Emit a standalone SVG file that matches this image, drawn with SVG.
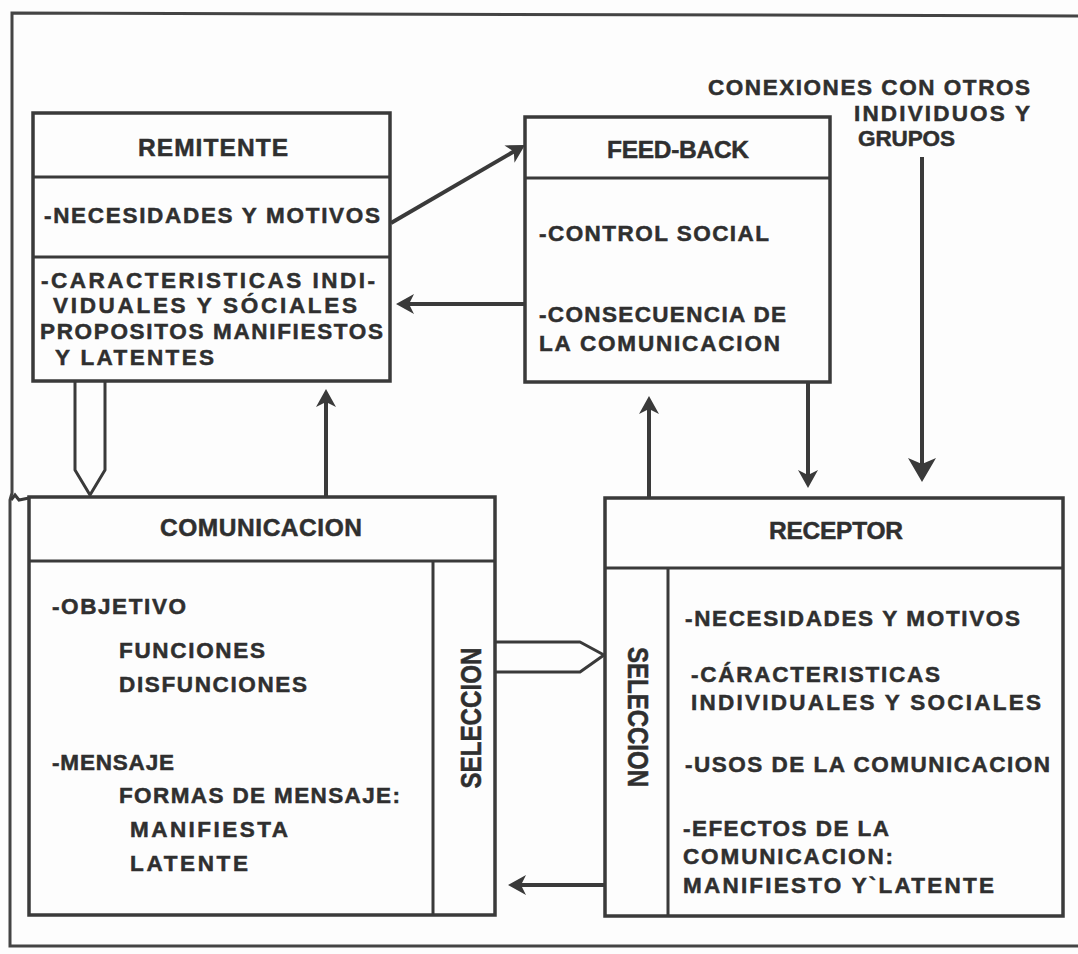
<svg xmlns="http://www.w3.org/2000/svg" width="1078" height="954" viewBox="0 0 1078 954">
<style>
.bx{fill:none;stroke:#3a3a3a;stroke-width:3.5}
.dv{fill:none;stroke:#3a3a3a;stroke-width:3}
.fr{fill:none;stroke:#444;stroke-width:3}
.ar{fill:none;stroke:#3a3a3a;stroke-width:4}
.ho{fill:none;stroke:#3a3a3a;stroke-width:3;stroke-linejoin:round}
.t{font-family:"Liberation Sans",Arial,Helvetica,sans-serif;font-weight:bold;font-size:22.5px;fill:#2f2f2f;stroke:#2f2f2f;stroke-width:0.5}
.h{font-size:24.5px}
.s{font-size:29px}
</style>
<defs>
<marker id="ah" markerUnits="userSpaceOnUse" viewBox="0 0 18 20" refX="10" refY="10" markerWidth="18" markerHeight="20" orient="auto"><path d="M0,0 L18,10 L0,20 L5,10 Z" fill="#3a3a3a"/></marker>
<marker id="ahL" markerUnits="userSpaceOnUse" viewBox="0 0 24 28" refX="14" refY="14" markerWidth="24" markerHeight="28" orient="auto"><path d="M0,0 L24,14 L0,28 L6,14 Z" fill="#3a3a3a"/></marker>
</defs>
<rect width="1078" height="954" fill="#fdfdfd"/>
<g id="frame">
<path class="fr" d="M1078,16 L12,13 V493 L10,500 V946 H1078"/>
<path class="dv" d="M11,500 L15,495 L19,500 L29,498" stroke-width="2"/>
</g>
<g id="remitente">
<rect class="bx" x="33" y="113" width="357" height="268"/>
<line class="dv" x1="33" y1="177" x2="390" y2="177"/>
<line class="dv" x1="33" y1="257" x2="390" y2="257"/>
<text class="t h" x="138" y="156" textLength="150" lengthAdjust="spacing">REMITENTE</text>
<text class="t" x="44" y="223" textLength="336" lengthAdjust="spacing">-NECESIDADES Y MOTIVOS</text>
<text class="t" x="41" y="288" textLength="334" lengthAdjust="spacing">-CARACTERISTICAS INDI-</text>
<text class="t" x="53" y="313" textLength="304" lengthAdjust="spacing">VIDUALES Y SÓCIALES</text>
<text class="t" x="40" y="339" textLength="343" lengthAdjust="spacing">PROPOSITOS MANIFIESTOS</text>
<text class="t" x="55" y="365" textLength="159" lengthAdjust="spacing">Y LATENTES</text>
</g>
<g id="feedback">
<rect class="bx" x="525" y="117" width="305" height="265"/>
<line class="dv" x1="525" y1="178" x2="830" y2="178"/>
<text class="t h" x="607" y="158" textLength="142" lengthAdjust="spacing">FEED-BACK</text>
<text class="t" x="539" y="241" textLength="230" lengthAdjust="spacing">-CONTROL SOCIAL</text>
<text class="t" x="539" y="322" textLength="247" lengthAdjust="spacing">-CONSECUENCIA DE</text>
<text class="t" x="539" y="351" textLength="241" lengthAdjust="spacing">LA COMUNICACION</text>
</g>
<g id="conexiones">
<text class="t" x="708" y="95" textLength="322" lengthAdjust="spacing">CONEXIONES CON OTROS</text>
<text class="t" x="854" y="121" textLength="176" lengthAdjust="spacing">INDIVIDUOS Y</text>
<text class="t" x="858" y="146" textLength="97" lengthAdjust="spacing">GRUPOS</text>
</g>
<g id="comunicacion">
<rect class="bx" x="29" y="497" width="466" height="418"/>
<line class="dv" x1="29" y1="561" x2="495" y2="561"/>
<line class="dv" x1="433" y1="561" x2="433" y2="915"/>
<text class="t h" x="160" y="536" textLength="202" lengthAdjust="spacing">COMUNICACION</text>
<text class="t" x="52" y="614" textLength="134" lengthAdjust="spacing">-OBJETIVO</text>
<text class="t" x="119" y="658" textLength="146" lengthAdjust="spacing">FUNCIONES</text>
<text class="t" x="119" y="692" textLength="188" lengthAdjust="spacing">DISFUNCIONES</text>
<text class="t" x="52" y="770" textLength="122" lengthAdjust="spacing">-MENSAJE</text>
<text class="t" x="119" y="803" textLength="281" lengthAdjust="spacing">FORMAS DE MENSAJE:</text>
<text class="t" x="130" y="837" textLength="158" lengthAdjust="spacing">MANIFIESTA</text>
<text class="t" x="130" y="871" textLength="118" lengthAdjust="spacing">LATENTE</text>
<text class="t s" transform="translate(481,718) rotate(-90)" text-anchor="middle" textLength="141" lengthAdjust="spacingAndGlyphs">SELECCION</text>
</g>
<g id="receptor">
<rect class="bx" x="605" y="498" width="458" height="418"/>
<line class="dv" x1="605" y1="568" x2="1063" y2="568"/>
<line class="dv" x1="668" y1="568" x2="668" y2="916"/>
<text class="t h" x="769" y="539" textLength="134" lengthAdjust="spacing">RECEPTOR</text>
<text class="t" x="685" y="626" textLength="335" lengthAdjust="spacing">-NECESIDADES Y MOTIVOS</text>
<text class="t" x="691" y="682" textLength="249" lengthAdjust="spacing">-CÁRACTERISTICAS</text>
<text class="t" x="691" y="710" textLength="350" lengthAdjust="spacing">INDIVIDUALES Y SOCIALES</text>
<text class="t" x="685" y="772" textLength="365" lengthAdjust="spacing">-USOS DE LA COMUNICACION</text>
<text class="t" x="683" y="836" textLength="206" lengthAdjust="spacing">-EFECTOS DE LA</text>
<text class="t" x="683" y="864" textLength="210" lengthAdjust="spacing">COMUNICACION:</text>
<text class="t" x="683" y="893" textLength="311" lengthAdjust="spacing">MANIFIESTO Y`LATENTE</text>
<text class="t s" transform="translate(628,717) rotate(90)" text-anchor="middle" textLength="140" lengthAdjust="spacingAndGlyphs">SELECCION</text>
</g>
<g id="connectors">
<line class="ar" x1="391" y1="223" x2="518.1" y2="149" stroke-width="5" marker-end="url(#ah)"/>
<line class="ar" x1="524" y1="304" x2="404" y2="304" marker-end="url(#ah)"/>
<line class="ar" x1="326" y1="497" x2="326" y2="397" marker-end="url(#ah)"/>
<line class="ar" x1="649" y1="498" x2="649" y2="404" marker-end="url(#ah)"/>
<line class="ar" x1="808" y1="383" x2="808" y2="480" marker-end="url(#ah)"/>
<line class="ar" x1="922" y1="157" x2="922" y2="472" stroke-width="5" marker-end="url(#ahL)"/>
<line class="ar" x1="604" y1="885" x2="516" y2="885" marker-end="url(#ah)"/>
<path class="ho" d="M75,382 V470 L90,495 L105,470 V382"/>
<path class="ho" d="M495,642 H580 L604,655 L580,672 H495"/>
</g>
</svg>
